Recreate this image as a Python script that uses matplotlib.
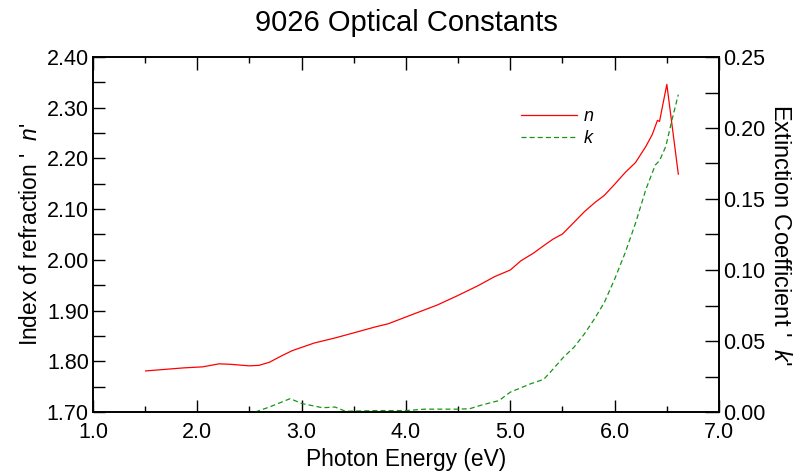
import matplotlib
matplotlib.use("Agg")
import matplotlib.pyplot as plt
from matplotlib.ticker import MultipleLocator, FormatStrFormatter

plt.rcParams['font.family'] = ['Liberation Sans', 'DejaVu Sans']
plt.rcParams['mathtext.fontset'] = 'custom'
plt.rcParams['mathtext.rm'] = 'Liberation Sans'
plt.rcParams['mathtext.it'] = 'Liberation Sans:italic'

energy_n = [1.505, 1.87, 2.05, 2.21, 2.32, 2.50, 2.59, 2.69, 2.81, 2.91, 3.12, 3.32, 3.48,
            3.71, 3.83, 4.02, 4.30, 4.49, 4.69, 4.85, 5.00, 5.10, 5.22, 5.32, 5.41, 5.50,
            5.61, 5.71, 5.81, 5.90, 6.00, 6.10, 6.20, 6.30, 6.36, 6.41, 6.43, 6.50, 6.61]
n_values = [1.781, 1.787, 1.789, 1.795, 1.794, 1.791, 1.792, 1.798, 1.811, 1.821, 1.836, 1.846, 1.855,
            1.868, 1.874, 1.889, 1.911, 1.929, 1.949, 1.967, 1.980, 1.998, 2.013, 2.028, 2.041, 2.051,
            2.074, 2.095, 2.113, 2.127, 2.149, 2.172, 2.192, 2.224, 2.247, 2.275, 2.273, 2.346, 2.169]

energy_k = [2.555, 2.69, 2.89, 3.00, 3.20, 3.32, 3.42, 3.71, 4.00, 4.18, 4.49, 4.61, 4.73, 4.89,
            5.00, 5.20, 5.32, 5.39, 5.51, 5.61, 5.71, 5.81, 5.90, 6.00, 6.10, 6.20, 6.30, 6.39,
            6.43, 6.49, 6.55, 6.61]
k_values = [0.0, 0.0035, 0.0094, 0.006, 0.003, 0.0035, 0.0005, 0.001, 0.001, 0.002, 0.002, 0.0023,
            0.005, 0.008, 0.014, 0.020, 0.023, 0.0286, 0.0386, 0.0456, 0.055, 0.066, 0.077, 0.0936,
            0.112, 0.133, 0.157, 0.174, 0.177, 0.187, 0.206, 0.2235]

fig = plt.figure(figsize=(8.03, 4.75), dpi=100)
ax = fig.add_axes([93/803, 1 - 412/475, (719 - 93)/803, (412 - 57)/475])
ax2 = ax.twinx()

l1, = ax.plot(energy_n, n_values, color='#ff0000', lw=0.9, label='$\\it{n}$')
l2, = ax2.plot(energy_k, k_values, color='#159615', lw=0.9, ls=(0, (4, 2.5)), label='$\\it{k}$')

ax.set_xlim(1.0, 7.0)
ax.set_ylim(1.70, 2.40)
ax2.set_ylim(0.0, 0.25)

ax.xaxis.set_major_locator(MultipleLocator(1.0))
ax.xaxis.set_minor_locator(MultipleLocator(0.5))
ax.xaxis.set_major_formatter(FormatStrFormatter('%.1f'))
ax.yaxis.set_major_locator(MultipleLocator(0.1))
ax.yaxis.set_minor_locator(MultipleLocator(0.05))
ax.yaxis.set_major_formatter(FormatStrFormatter('%.2f'))
ax2.yaxis.set_major_locator(MultipleLocator(0.05))
ax2.yaxis.set_minor_locator(MultipleLocator(0.025))
ax2.yaxis.set_major_formatter(FormatStrFormatter('%.2f'))

fs = 15.5
ax.tick_params(axis='x', which='major', direction='in', length=9, width=1, top=True, labelsize=fs, pad=7)
ax.tick_params(axis='x', which='minor', direction='in', length=4.5, width=1, top=True)
ax.tick_params(axis='y', which='both', direction='in', length=8.5, width=1, labelsize=fs, pad=3)
ax2.tick_params(axis='y', which='both', direction='in', length=10, width=1, labelsize=fs, pad=3)
for a in (ax, ax2):
    for s in a.spines.values():
        s.set_linewidth(1.2)

lfs = 16.4
ax.set_xlabel('Photon Energy (eV)', fontsize=lfs, labelpad=4)
ax.set_ylabel("Index of refraction '  $\\it{n}$'", fontsize=lfs, labelpad=3)
ax2.set_ylabel("Extinction Coefficient '  $\\it{k}$'", fontsize=17, rotation=270, labelpad=18)
fig.text(406/803, 1 - 23/475, '9026 Optical Constants', ha='center', va='center', fontsize=21)

leg = ax.legend(handles=[l1, l2], loc='upper left', bbox_to_anchor=(521/803, 1 - 108/475),
                bbox_transform=fig.transFigure, frameon=False, fontsize=13,
                handlelength=3.1, handletextpad=0.35, labelspacing=0.3, borderaxespad=0, borderpad=0)

fig.savefig('out.png', dpi=100)
